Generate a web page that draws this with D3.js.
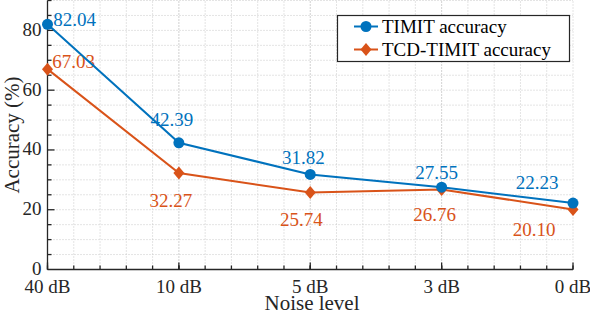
<!DOCTYPE html>
<html><head><meta charset="utf-8">
<script src="https://cdn.jsdelivr.net/npm/d3@7"></script>
<style>
html,body{margin:0;padding:0;background:#fff;}
svg text{font-family:"Liberation Serif","Times New Roman",serif;}
</style></head>
<body><svg id="c" width="590" height="314"></svg>
<script>
const categories = ["40 dB","10 dB","5 dB","3 dB","0 dB"];
const timit = [82.04, 42.39, 31.82, 27.55, 22.23];
const tcd = [67.03, 32.27, 25.74, 26.76, 20.10];
const yTicks = [0, 20, 40, 60, 80];
const seriesNames = ["TIMIT accuracy", "TCD-TIMIT accuracy"];
// label offsets (px) relative to each point
const timitLabelOff = [[27,-5],[-7,-23],[-7,-17],[-5,-15],[-36,-21]];
const tcdLabelOff = [[26,-8],[-8,27],[-9,27],[-7,25],[-39,20]];

const blue = "#0072BD", orange = "#D95319", axisCol = "#262626";
const svg = d3.select("#c");
const x = d3.scalePoint().domain(categories).range([47.5, 573]);
const y = d3.scaleLinear().domain([0, 90]).range([269.5, 0.5]);
const fs = 19, fsLab = 21;

// grid
const g = svg.append("g");
const step = x.step();
const xGrid = [];
for (let i = 0; i < categories.length - 1; i++) for (let k = 0; k <= 5; k++) xGrid.push(x(categories[0]) + (i + k / 5) * step);
const yGrid = d3.range(5, 91, 5);
g.selectAll(".gx").data(xGrid).join("line")
  .attr("x1", d => d).attr("x2", d => d).attr("y1", y(0)).attr("y2", y(90))
  .attr("stroke", "#c8c8c8").attr("stroke-width", 1).attr("stroke-dasharray", "1,2");
g.selectAll(".gy").data(yGrid).join("line")
  .attr("x1", x.range()[0]).attr("x2", x.range()[1]).attr("y1", d => y(d)).attr("y2", d => y(d))
  .attr("stroke", "#c8c8c8").attr("stroke-width", 1).attr("stroke-dasharray", "1,2");

// axes
const x0 = x.range()[0], y0 = y(0);
const ax = svg.append("g").attr("stroke", axisCol).attr("stroke-width", 1.3);
ax.append("line").attr("x1", x0).attr("x2", x0).attr("y1", y0).attr("y2", y(90));
ax.append("line").attr("x1", x0).attr("x2", x.range()[1]).attr("y1", y0).attr("y2", y0);
d3.range(5, 91, 5).forEach(v => {
  const len = yTicks.includes(v) ? 7 : 4;
  ax.append("line").attr("x1", x0).attr("x2", x0 + len).attr("y1", y(v)).attr("y2", y(v));
});
xGrid.forEach(xv => {
  ax.append("line").attr("x1", xv).attr("x2", xv).attr("y1", y0).attr("y2", y0 - 4);
});
categories.forEach(c => {
  ax.append("line").attr("x1", x(c)).attr("x2", x(c)).attr("y1", y0).attr("y2", y0 - 7);
});

svg.selectAll(".yl").data(yTicks).join("text")
  .attr("x", x0 - 6).attr("y", d => y(d) - 1).attr("text-anchor", "end").attr("dominant-baseline", "central")
  .attr("font-size", fs).attr("fill", axisCol).text(d => d);
svg.selectAll(".xl").data(categories).join("text")
  .attr("x", d => x(d)).attr("y", 293).attr("text-anchor", "middle")
  .attr("font-size", fs).attr("fill", axisCol).text(d => d);
svg.append("text").attr("x", 312).attr("y", 309.5).attr("text-anchor", "middle")
  .attr("font-size", fsLab).attr("fill", axisCol).text("Noise level");
svg.append("text").attr("transform", "translate(19,135) rotate(-90)").attr("text-anchor", "middle")
  .attr("font-size", fsLab).attr("fill", axisCol).text("Accuracy (%)");

// series
const line = d3.line().x((d, i) => x(categories[i])).y(d => y(d));
const diamond = (cx, cy) => `M${cx},${cy-6.5}L${cx+5.5},${cy}L${cx},${cy+6.5}L${cx-5.5},${cy}Z`;
function drawSeries(vals, col, shape, offs) {
  svg.append("path").datum(vals).attr("d", line).attr("fill", "none").attr("stroke", col).attr("stroke-width", 2);
  vals.forEach((v, i) => {
    const cx = x(categories[i]), cy = y(v);
    if (shape === "circle") svg.append("circle").attr("cx", cx).attr("cy", cy).attr("r", 5.5).attr("fill", col);
    else svg.append("path").attr("d", diamond(cx, cy)).attr("fill", col);
  });
  svg.selectAll(null).data(vals).join("text")
    .attr("x", (d, i) => x(categories[i]) + offs[i][0]).attr("y", (d, i) => y(d) + offs[i][1])
    .attr("text-anchor", "middle").attr("dominant-baseline", "central")
    .attr("font-size", fs).attr("fill", col).text(d => d.toFixed(2));
}
drawSeries(tcd, orange, "diamond", tcdLabelOff);
drawSeries(timit, blue, "circle", timitLabelOff);

// legend
const lg = svg.append("g");
lg.append("rect").attr("x", 337.5).attr("y", 15.5).attr("width", 232).attr("height", 46)
  .attr("fill", "#fff").attr("stroke", axisCol).attr("stroke-width", 1.2);
[[blue, "circle"], [orange, "diamond"]].forEach((s, i) => {
  const cy = 26.5 + i * 23;
  lg.append("line").attr("x1", 354).attr("x2", 378).attr("y1", cy).attr("y2", cy).attr("stroke", s[0]).attr("stroke-width", 2);
  if (s[1] === "circle") lg.append("circle").attr("cx", 366).attr("cy", cy).attr("r", 5.5).attr("fill", s[0]);
  else lg.append("path").attr("d", diamond(366, cy)).attr("fill", s[0]);
  lg.append("text").attr("x", 382).attr("y", cy).attr("dominant-baseline", "central")
    .attr("font-size", fs).attr("fill", "#000").text(seriesNames[i]);
});
</script></body></html>
